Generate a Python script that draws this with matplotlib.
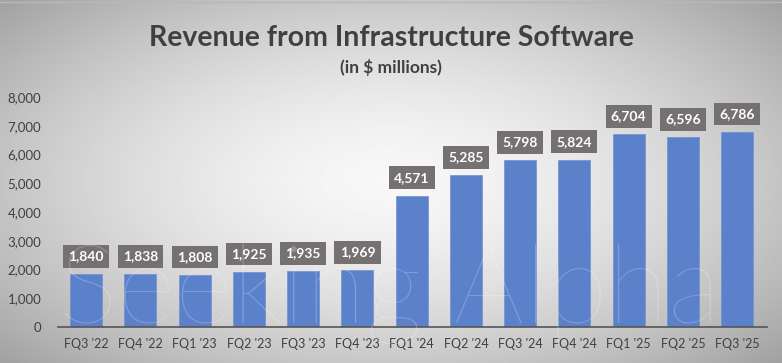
import numpy as np
import matplotlib.pyplot as plt

# data
quarters = ["FQ3 '22", "FQ4 '22", "FQ1 '23", "FQ2 '23", "FQ3 '23", "FQ4 '23",
            "FQ1 '24", "FQ2 '24", "FQ3 '24", "FQ4 '24", "FQ1 '25", "FQ2 '25", "FQ3 '25"]
revenue = [1840, 1838, 1808, 1925, 1935, 1969, 4571, 5285, 5798, 5824, 6704, 6596, 6786]
yticks = [0, 1000, 2000, 3000, 4000, 5000, 6000, 7000, 8000]

plt.rcParams['font.family'] = ['Lato', 'DejaVu Sans']

fig = plt.figure(figsize=(7.82, 3.63), dpi=100)

# radial gradient background
bg = fig.add_axes([0, 0, 1, 1], zorder=0)
yy, xx = np.mgrid[-1:1:200j, -1:1:400j]
r = np.sqrt((xx * 0.95) ** 2 + (yy * 0.9) ** 2)
bg.imshow(0.97 - 0.22 * np.clip(r, 0, 1.4) ** 1.6, cmap='gray', vmin=0, vmax=1,
          aspect='auto', extent=[0, 1, 0, 1])
bg.set_xlim(0, 1)
bg.set_ylim(0, 1)
bg.axis('off')
bg.axhline(0.995, color='#b8b8b8', lw=1)

ax = fig.add_axes([58 / 782, (363 - 327) / 363, (767 - 58) / 782, 230 / 363], zorder=1)
ax.patch.set_alpha(0)
x = np.arange(len(quarters))
ax.bar(x, revenue, width=0.59, color='#5B81CA', edgecolor='#6F90D2', linewidth=0.5, zorder=2)

for xi, v in zip(x, revenue):
    ax.text(xi, v + 620, f"{v:,}", ha='center', va='center', color='white',
            fontsize=10, fontweight='bold', zorder=4,
            bbox=dict(boxstyle='square,pad=0.38', fc='#757171', ec='none'))

ax.set_xlim(-0.52, len(quarters) - 0.45)
ax.set_ylim(0, 8000)
ax.set_yticks(yticks)
ax.set_yticklabels([f"{t:,}" for t in yticks], fontsize=9.5, color='#404040')
ax.set_xticks(x)
ax.set_xticklabels(quarters, fontsize=9, color='#404040')
ax.tick_params(length=0, pad=8)
ax.tick_params(axis='y', pad=12)
for s in ['top', 'right', 'left']:
    ax.spines[s].set_visible(False)
ax.spines['bottom'].set_color('#555555')
ax.spines['bottom'].set_linewidth(1.2)

# faint watermark
fig.text(0.075, 0.11, "Seeking Alpha", fontsize=80, color='white', alpha=0.22,
         fontweight='light', zorder=3)

fig.text(0.5, 0.895, "Revenue from Infrastructure Software", ha='center', va='center',
         fontsize=20.5, fontweight='bold', color='#404040')
fig.text(0.5, 0.815, "(in $ millions)", ha='center', va='center',
         fontsize=12.5, fontweight='bold', color='#404040')

fig.savefig('out.png', dpi=100)
